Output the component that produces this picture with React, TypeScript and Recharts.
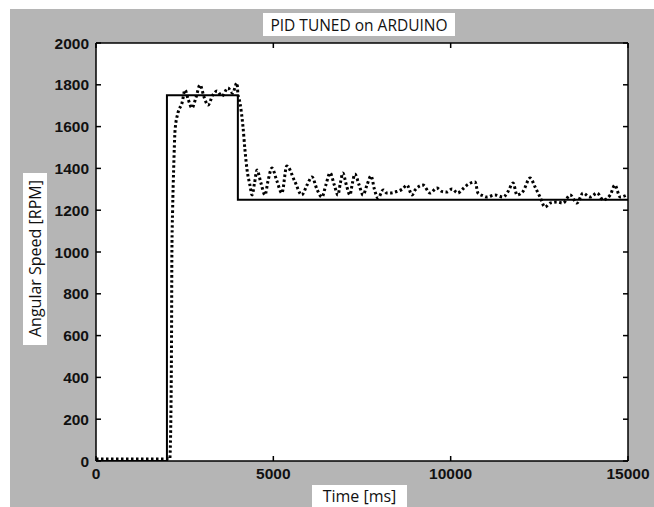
import { CartesianGrid, Line, LineChart, XAxis, YAxis } from "recharts"

// reference step (setpoint)
const setpointTime = [0, 2000, 4000, 15000]
const setpointRpm = [0, 1750, 1250, 1250]

const measuredTime = [
  0, 500, 1000, 1500, 2000, 2080, 2110, 2130, 2140, 2160, 2190, 2230, 2310, 2425,
  2510, 2600, 2707, 2820, 2933, 3050, 3160, 3290, 3410, 3550, 3720, 3850, 3975,
  4000, 4060, 4145, 4200, 4260, 4340, 4400, 4470, 4540, 4650, 4765, 4850, 4960,
  5100, 5240, 5380, 5600, 5800, 5950, 6090, 6230, 6370, 6480, 6600, 6720, 6820,
  6890, 6960, 7060, 7160, 7230, 7300, 7420, 7530, 7640, 7755, 7850, 7950, 8100,
  8200, 8290, 8490, 8630, 8770, 8910, 9000, 9220, 9420, 9610, 9750, 9890, 10040,
  10200, 10330, 10460, 10690, 10770, 10900, 11020, 11250, 11480, 11620, 11760,
  11870, 12040, 12240, 12380, 12520, 12660, 12800, 12990, 13170, 13370, 13560,
  13730, 13930, 14130, 14300, 14500, 14630, 14780, 14970,
]
const measuredRpm = [
  10, 10, 10, 10, 10, 10, 200, 600, 1000, 1200, 1400, 1584, 1665, 1713,
  1775, 1730, 1689, 1740, 1799, 1740, 1703, 1750, 1770, 1746, 1785, 1760, 1809,
  1760, 1713, 1598, 1488, 1392, 1320, 1273, 1330, 1392, 1330, 1273, 1340, 1402,
  1340, 1282, 1412, 1340, 1273, 1320, 1359, 1300, 1263, 1320, 1378, 1320, 1273,
  1330, 1378, 1320, 1273, 1330, 1373, 1320, 1273, 1320, 1364, 1300, 1258, 1297,
  1282, 1282, 1290, 1300, 1320, 1273, 1297, 1320, 1282, 1306, 1290, 1287, 1301,
  1282, 1300, 1320, 1335, 1282, 1270, 1263, 1273, 1263, 1290, 1330,
  1273, 1290, 1354, 1311, 1263, 1215, 1234, 1239, 1234, 1273, 1234,
  1282, 1263, 1282, 1249, 1273, 1320, 1263, 1273,
]

const timeTicks = [0, 5000, 10000, 15000]
const rpmTicks = [0, 200, 400, 600, 800, 1000, 1200, 1400, 1600, 1800, 2000]

const setpointData = setpointTime.map((t, i) => ({ t, rpm: setpointRpm[i] }))
const measuredData = measuredTime.map((t, i) => ({ t, rpm: measuredRpm[i] }))

const tickFont = {
  fill: "#111",
  fontSize: 15.5,
  fontWeight: 700,
  fontFamily: '"Liberation Sans", Arial, sans-serif',
}
const axisLine = { stroke: "#000", strokeWidth: 1.5 }
const tickLine = { stroke: "#000", strokeWidth: 1.5 }
const labelFont = '"Open Sans", sans-serif'

export default function App() {
  return (
    <div style={{ position: "relative", width: 654, height: 507, background: "#fff", overflow: "hidden" }}>
      <style>{`html,body{margin:0;padding:0;overflow:hidden;}`}</style>
      <div style={{ position: "absolute", left: 10, top: 9, width: 644, height: 498, background: "#b5b5b5" }}>
        <LineChart width={644} height={498} margin={{ top: 33, right: 25, bottom: 16, left: 36 }}>
          <CartesianGrid fill="#fff" horizontal={false} vertical={false} />
          <XAxis
            xAxisId="b"
            dataKey="t"
            type="number"
            domain={[0, 15000]}
            ticks={timeTicks}
            interval={0}
            allowDataOverflow
            height={30}
            tickSize={-5}
            tickMargin={12}
            axisLine={axisLine}
            tickLine={tickLine}
            tick={tickFont}
          />
          <XAxis
            xAxisId="t"
            orientation="top"
            dataKey="t"
            type="number"
            domain={[0, 15000]}
            ticks={timeTicks}
            interval={0}
            allowDataOverflow
            height={1}
            tickSize={-5}
            tickFormatter={() => ""}
            axisLine={axisLine}
            tickLine={tickLine}
          />
          <YAxis
            yAxisId="l"
            type="number"
            domain={[0, 2000]}
            ticks={rpmTicks}
            interval={0}
            allowDataOverflow
            width={50}
            tickSize={-5}
            tickMargin={12}
            axisLine={axisLine}
            tickLine={tickLine}
            tick={tickFont}
          />
          <YAxis
            yAxisId="r"
            orientation="right"
            type="number"
            domain={[0, 2000]}
            ticks={rpmTicks}
            interval={0}
            allowDataOverflow
            width={1}
            tickSize={-5}
            tickFormatter={() => ""}
            axisLine={axisLine}
            tickLine={tickLine}
          />
          <Line
            xAxisId="b"
            yAxisId="l"
            data={setpointData}
            dataKey="rpm"
            type="stepAfter"
            stroke="#000"
            strokeWidth={2}
            dot={false}
            isAnimationActive={false}
          />
          <Line
            xAxisId="b"
            yAxisId="l"
            data={measuredData}
            dataKey="rpm"
            type="monotone"
            stroke="#000"
            strokeWidth={3}
            strokeDasharray="2.5 2.5"
            dot={false}
            isAnimationActive={false}
          />
        </LineChart>

        <div
          style={{
            position: "absolute", left: 253, top: 4, width: 192, height: 23, background: "#fff",
            display: "flex", alignItems: "center", justifyContent: "center",
            fontFamily: labelFont, fontSize: 15.5, color: "#111", whiteSpace: "nowrap",
          }}
        >
          PID TUNED on ARDUINO
        </div>
        <div
          style={{
            position: "absolute", left: 302, top: 476, width: 95, height: 22, background: "#fff",
            display: "flex", alignItems: "center", justifyContent: "center",
            fontFamily: labelFont, fontSize: 16, lineHeight: "18px", color: "#111", whiteSpace: "nowrap",
          }}
        >
          Time [ms]
        </div>
        <div
          style={{
            position: "absolute", left: 13, top: 164, width: 24, height: 172, background: "#fff",
            display: "flex", alignItems: "center", justifyContent: "center",
            fontFamily: labelFont, fontSize: 16, color: "#111", whiteSpace: "nowrap",
            writingMode: "vertical-rl", transform: "rotate(180deg)",
          }}
        >
          Angular Speed [RPM]
        </div>
      </div>
    </div>
  )
}
